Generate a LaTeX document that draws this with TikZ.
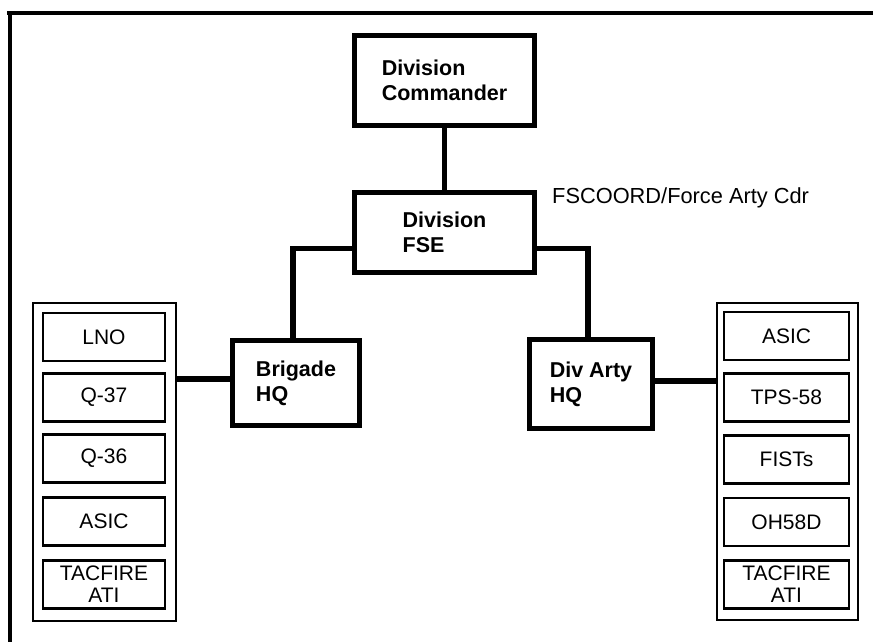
\documentclass[tikz,border=0pt]{standalone}
\usepackage{fontspec}
\setmainfont{Liberation Sans}
\begin{document}
\begin{tikzpicture}[x=1pt,y=-1pt,
  hq/.style={draw,line width=5pt,rectangle,inner sep=0pt,align=left,
    font=\bfseries\fontsize{21.5}{25}\selectfont},
  grp/.style={draw,line width=1.6pt,rectangle,inner sep=0pt,minimum width=143pt,minimum height=318pt},
  item/.style={draw,line width=2.6pt,rectangle,inner sep=0pt,align=center,
    minimum height=48pt,font=\fontsize{21}{22}\selectfont},
  conn/.style={line width=5.5pt},
  frame/.style={line width=4pt}]
\useasboundingbox (0,0) rectangle (873,642);
\fill[white] (0,0) rectangle (873,642);
% scan frame
\draw[frame] (7,13.5) -- (873,13.5);
\draw[frame] (9.5,11.5) -- (9.5,642);
% HQ boxes
\node[hq,minimum width=180pt,minimum height=90pt] (cmd) at (444.5,80.5) {Division\\Commander};
\node[hq,minimum width=180pt,minimum height=80pt] (fse) at (444.5,232.5) {Division\\FSE};
\node[hq,minimum width=127pt,minimum height=85pt] (brig) at (296,383) {Brigade\\HQ};
\node[hq,minimum width=123pt,minimum height=89pt] (arty) at (591,384) {Div Arty\\HQ};
\node[anchor=base west,inner sep=0pt,font=\fontsize{21.8}{24}\selectfont] (lbl) at (552,203) {FSCOORD/Force Arty Cdr};
% groups
\node[grp] (lg) at (104.5,462) {};
\node[grp,minimum width=141pt,minimum height=317pt] (rg) at (787.5,461.5) {};
\node[item,minimum width=122pt] (l1) at (104,337) {LNO};
\node[item,minimum width=122pt] (l2) at (104,397.5) {Q-37};
\node[item,minimum width=122pt] (l3) at (104,458.5) {Q-36};
\node[item,minimum width=122pt] (l4) at (104,521.5) {ASIC};
\node[item,minimum width=122pt] (l5) at (104,584.5) {TACFIRE\\ATI};
\node[item,minimum width=125pt] (r1) at (786.5,336) {ASIC};
\node[item,minimum width=125pt] (r2) at (786.5,397.5) {TPS-58};
\node[item,minimum width=125pt] (r3) at (786.5,459.5) {FISTs};
\node[item,minimum width=125pt] (r4) at (786.5,522) {OH58D};
\node[item,minimum width=125pt] (r5) at (786.5,584.5) {TACFIRE\\ATI};
% connectors
\coordinate (fl) at ([yshift=-16pt]fse.west);
\coordinate (fr) at ([yshift=-16pt]fse.east);
\coordinate (bt) at ([xshift=-3pt]brig.north);
\coordinate (at) at ([xshift=-3pt]arty.north);
\draw[conn] (cmd.south) -- (fse.north);
\draw[conn] (fl) -| (bt);
\draw[conn] (fr) -| (at);
\draw[conn] ([yshift=4pt]brig.west) -- ([yshift=4pt]brig.west -| lg.east);
\draw[conn] ([yshift=3pt]arty.east) -- ([yshift=3pt]arty.east -| rg.west);
\end{tikzpicture}
\end{document}
